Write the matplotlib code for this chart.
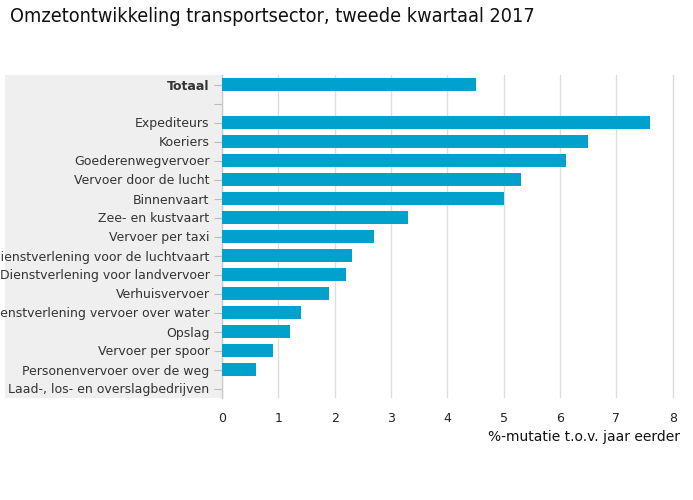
import matplotlib
matplotlib.use("Agg")
import matplotlib.pyplot as plt
from matplotlib.patches import Rectangle

# data, top to bottom (empty string = blank spacer row)
categories = [
    "Totaal",
    "",
    "Expediteurs",
    "Koeriers",
    "Goederenwegvervoer",
    "Vervoer door de lucht",
    "Binnenvaart",
    "Zee- en kustvaart",
    "Vervoer per taxi",
    "Dienstverlening voor de luchtvaart",
    "Dienstverlening voor landvervoer",
    "Verhuisvervoer",
    "Dienstverlening vervoer over water",
    "Opslag",
    "Vervoer per spoor",
    "Personenvervoer over de weg",
    "Laad-, los- en overslagbedrijven",
]
values = [4.5, None, 7.6, 6.5, 6.1, 5.3, 5.0, 3.3, 2.7, 2.3, 2.2, 1.9, 1.4, 1.2, 0.9, 0.6, 0.0]
xticks = [0, 1, 2, 3, 4, 5, 6, 7, 8]

bar_color = "#00a1cd"
grid_color = "#dddddd"
band_color = "#efefef"

plt.rcParams["font.family"] = ["DejaVu Sans"]

fig = plt.figure(figsize=(6.93, 5.0), dpi=100)
ax = fig.add_axes([222 / 693, 1 - 398 / 500, (680 - 222) / 693, (398 - 75) / 500])

# grey band behind the category labels
fig.patches.append(Rectangle((5 / 693, 1 - 398 / 500), (222 - 5) / 693, (398 - 75) / 500,
                             transform=fig.transFigure, facecolor=band_color,
                             edgecolor="none", zorder=-1))

ypos = list(range(len(categories)))
for y, v in zip(ypos, values):
    if v is not None:
        ax.barh(y, v, height=0.65, color=bar_color, zorder=3)

ax.set_ylim(len(categories) - 0.5, -0.5)
ax.set_xlim(0, 8.13)
ax.set_yticks(ypos)
ax.set_yticklabels(categories)
ax.set_xticks(xticks)
ax.set_xticklabels([str(t) for t in xticks])

for lbl in ax.get_yticklabels():
    if lbl.get_text() == "Totaal":
        lbl.set_fontweight("bold")

ax.tick_params(axis="y", length=6, width=0.8, color="#bbbbbb", labelsize=9,
               labelcolor="#333333", pad=3)
ax.tick_params(axis="x", length=0, labelsize=9, labelcolor="#222222", pad=10)

ax.grid(axis="x", color=grid_color, linewidth=1, zorder=0)
ax.set_facecolor("white")
for side in ["top", "right", "bottom"]:
    ax.spines[side].set_visible(False)
ax.spines["left"].set_color("#cccccc")
ax.spines["left"].set_linewidth(1)

ax.set_xlabel("%-mutatie t.o.v. jaar eerder", fontsize=10, color="#111111",
              loc="right", labelpad=4)

fig.text(10 / 693, 1 - 17 / 500, "Omzetontwikkeling transportsector, tweede kwartaal 2017",
         fontsize=14.2, fontstretch="condensed", color="#111111", va="center", ha="left")

fig.savefig("out.png", dpi=100)
